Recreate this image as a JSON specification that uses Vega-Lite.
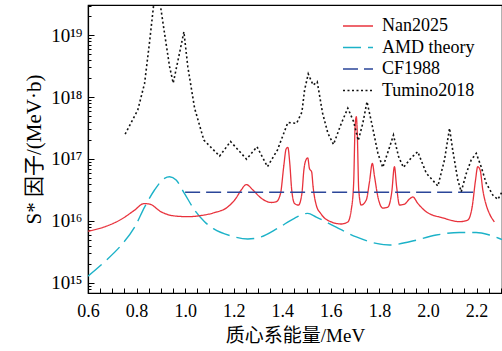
{
  "$schema": "https://vega.github.io/schema/vega-lite/v6.json",
  "width": 414,
  "height": 288,
  "autosize": {"type": "none"},
  "padding": {"left": 88, "top": 5, "right": 0, "bottom": 58},
  "background": "white",
  "config": {
    "view": {"stroke": "black", "strokeWidth": 1.2},
    "font": "Liberation Serif"
  },
  "data": {
    "values": [
      {"s": "AMD theory", "x": 0.600, "y": 1.28e15},
      {"s": "AMD theory", "x": 0.668, "y": 2.18e15},
      {"s": "AMD theory", "x": 0.737, "y": 4.06e15},
      {"s": "AMD theory", "x": 0.792, "y": 7.9e15},
      {"s": "AMD theory", "x": 0.833, "y": 1.67e16},
      {"s": "AMD theory", "x": 0.874, "y": 3.15e16},
      {"s": "AMD theory", "x": 0.915, "y": 4.87e16},
      {"s": "AMD theory", "x": 0.936, "y": 5.16e16},
      {"s": "AMD theory", "x": 0.963, "y": 4.56e16},
      {"s": "AMD theory", "x": 0.997, "y": 2.78e16},
      {"s": "AMD theory", "x": 1.039, "y": 1.49e16},
      {"s": "AMD theory", "x": 1.080, "y": 9.7e15},
      {"s": "AMD theory", "x": 1.118, "y": 7.4e15},
      {"s": "AMD theory", "x": 1.190, "y": 5.7e15},
      {"s": "AMD theory", "x": 1.258, "y": 5.1e15},
      {"s": "AMD theory", "x": 1.313, "y": 5.5e15},
      {"s": "AMD theory", "x": 1.382, "y": 7.6e15},
      {"s": "AMD theory", "x": 1.450, "y": 1.10e16},
      {"s": "AMD theory", "x": 1.505, "y": 1.32e16},
      {"s": "AMD theory", "x": 1.540, "y": 1.15e16},
      {"s": "AMD theory", "x": 1.622, "y": 7.9e15},
      {"s": "AMD theory", "x": 1.705, "y": 5.5e15},
      {"s": "AMD theory", "x": 1.787, "y": 4.33e15},
      {"s": "AMD theory", "x": 1.842, "y": 4.07e15},
      {"s": "AMD theory", "x": 1.924, "y": 4.6e15},
      {"s": "AMD theory", "x": 2.034, "y": 5.9e15},
      {"s": "AMD theory", "x": 2.130, "y": 6.5e15},
      {"s": "AMD theory", "x": 2.199, "y": 6.5e15},
      {"s": "AMD theory", "x": 2.254, "y": 5.9e15},
      {"s": "AMD theory", "x": 2.305, "y": 5.0e15},

      {"s": "Nan2025", "x": 0.600, "y": 6.8e15},
      {"s": "Nan2025", "x": 0.668, "y": 8.0e15},
      {"s": "Nan2025", "x": 0.737, "y": 1.06e16},
      {"s": "Nan2025", "x": 0.792, "y": 1.49e16},
      {"s": "Nan2025", "x": 0.830, "y": 1.90e16},
      {"s": "Nan2025", "x": 0.853, "y": 1.87e16},
      {"s": "Nan2025", "x": 0.901, "y": 1.40e16},
      {"s": "Nan2025", "x": 0.956, "y": 1.20e16},
      {"s": "Nan2025", "x": 1.011, "y": 1.17e16},
      {"s": "Nan2025", "x": 1.066, "y": 1.22e16},
      {"s": "Nan2025", "x": 1.121, "y": 1.36e16},
      {"s": "Nan2025", "x": 1.175, "y": 1.67e16},
      {"s": "Nan2025", "x": 1.207, "y": 2.25e16},
      {"s": "Nan2025", "x": 1.231, "y": 3.15e16},
      {"s": "Nan2025", "x": 1.252, "y": 3.86e16},
      {"s": "Nan2025", "x": 1.279, "y": 3.15e16},
      {"s": "Nan2025", "x": 1.313, "y": 2.33e16},
      {"s": "Nan2025", "x": 1.355, "y": 1.98e16},
      {"s": "Nan2025", "x": 1.376, "y": 2.05e16},
      {"s": "Nan2025", "x": 1.393, "y": 2.78e16},
      {"s": "Nan2025", "x": 1.406, "y": 7.5e16},
      {"s": "Nan2025", "x": 1.416, "y": 1.45e17},
      {"s": "Nan2025", "x": 1.423, "y": 1.54e17},
      {"s": "Nan2025", "x": 1.431, "y": 8.5e16},
      {"s": "Nan2025", "x": 1.439, "y": 3.15e16},
      {"s": "Nan2025", "x": 1.451, "y": 1.90e16},
      {"s": "Nan2025", "x": 1.467, "y": 1.80e16},
      {"s": "Nan2025", "x": 1.481, "y": 2.78e16},
      {"s": "Nan2025", "x": 1.489, "y": 6.6e16},
      {"s": "Nan2025", "x": 1.499, "y": 9.9e16},
      {"s": "Nan2025", "x": 1.505, "y": 1.04e17},
      {"s": "Nan2025", "x": 1.512, "y": 7.0e16},
      {"s": "Nan2025", "x": 1.521, "y": 6.2e16},
      {"s": "Nan2025", "x": 1.527, "y": 3.55e16},
      {"s": "Nan2025", "x": 1.540, "y": 1.80e16},
      {"s": "Nan2025", "x": 1.560, "y": 1.29e16},
      {"s": "Nan2025", "x": 1.602, "y": 9.6e15},
      {"s": "Nan2025", "x": 1.643, "y": 8.9e15},
      {"s": "Nan2025", "x": 1.670, "y": 9.6e15},
      {"s": "Nan2025", "x": 1.684, "y": 1.49e16},
      {"s": "Nan2025", "x": 1.694, "y": 4.0e16},
      {"s": "Nan2025", "x": 1.700, "y": 3.3e17},
      {"s": "Nan2025", "x": 1.705, "y": 4.8e17},
      {"s": "Nan2025", "x": 1.709, "y": 2.6e17},
      {"s": "Nan2025", "x": 1.715, "y": 3.15e16},
      {"s": "Nan2025", "x": 1.725, "y": 1.80e16},
      {"s": "Nan2025", "x": 1.746, "y": 2.17e16},
      {"s": "Nan2025", "x": 1.759, "y": 4.2e16},
      {"s": "Nan2025", "x": 1.771, "y": 8.5e16},
      {"s": "Nan2025", "x": 1.780, "y": 5.2e16},
      {"s": "Nan2025", "x": 1.794, "y": 2.43e16},
      {"s": "Nan2025", "x": 1.814, "y": 1.61e16},
      {"s": "Nan2025", "x": 1.835, "y": 1.67e16},
      {"s": "Nan2025", "x": 1.851, "y": 2.92e16},
      {"s": "Nan2025", "x": 1.862, "y": 7.5e16},
      {"s": "Nan2025", "x": 1.871, "y": 3.55e16},
      {"s": "Nan2025", "x": 1.883, "y": 1.80e16},
      {"s": "Nan2025", "x": 1.904, "y": 1.87e16},
      {"s": "Nan2025", "x": 1.924, "y": 2.25e16},
      {"s": "Nan2025", "x": 1.938, "y": 2.43e16},
      {"s": "Nan2025", "x": 1.958, "y": 1.92e16},
      {"s": "Nan2025", "x": 1.993, "y": 1.40e16},
      {"s": "Nan2025", "x": 2.061, "y": 1.12e16},
      {"s": "Nan2025", "x": 2.130, "y": 9.7e15},
      {"s": "Nan2025", "x": 2.164, "y": 1.03e16},
      {"s": "Nan2025", "x": 2.182, "y": 1.67e16},
      {"s": "Nan2025", "x": 2.196, "y": 4.56e16},
      {"s": "Nan2025", "x": 2.205, "y": 7.5e16},
      {"s": "Nan2025", "x": 2.215, "y": 6.6e16},
      {"s": "Nan2025", "x": 2.226, "y": 3.15e16},
      {"s": "Nan2025", "x": 2.240, "y": 1.80e16},
      {"s": "Nan2025", "x": 2.254, "y": 1.29e16},
      {"s": "Nan2025", "x": 2.274, "y": 9.6e15},

      {"s": "CF1988", "x": 1.0, "y": 2.9e16},
      {"s": "CF1988", "x": 2.2, "y": 2.9e16},

      {"s": "Tumino2018", "x": 0.753, "y": 2.52e17},
      {"s": "Tumino2018", "x": 0.805, "y": 6.17e17},
      {"s": "Tumino2018", "x": 0.833, "y": 1.66e18},
      {"s": "Tumino2018", "x": 0.853, "y": 7.4e18},
      {"s": "Tumino2018", "x": 0.882, "y": 8e19},
      {"s": "Tumino2018", "x": 0.915, "y": 1.08e19},
      {"s": "Tumino2018", "x": 0.936, "y": 3.09e18},
      {"s": "Tumino2018", "x": 0.951, "y": 1.68e18},
      {"s": "Tumino2018", "x": 0.977, "y": 5.14e18},
      {"s": "Tumino2018", "x": 0.995, "y": 1.13e19},
      {"s": "Tumino2018", "x": 1.011, "y": 3.09e18},
      {"s": "Tumino2018", "x": 1.039, "y": 6.6e17},
      {"s": "Tumino2018", "x": 1.077, "y": 2.02e17},
      {"s": "Tumino2018", "x": 1.142, "y": 1.11e17},
      {"s": "Tumino2018", "x": 1.187, "y": 1.91e17},
      {"s": "Tumino2018", "x": 1.253, "y": 9.9e16},
      {"s": "Tumino2018", "x": 1.296, "y": 1.57e17},
      {"s": "Tumino2018", "x": 1.339, "y": 7.5e16},
      {"s": "Tumino2018", "x": 1.380, "y": 1.39e17},
      {"s": "Tumino2018", "x": 1.423, "y": 3.87e17},
      {"s": "Tumino2018", "x": 1.459, "y": 3.76e17},
      {"s": "Tumino2018", "x": 1.481, "y": 5.7e17},
      {"s": "Tumino2018", "x": 1.492, "y": 1.3e18},
      {"s": "Tumino2018", "x": 1.507, "y": 2.36e18},
      {"s": "Tumino2018", "x": 1.527, "y": 1.56e18},
      {"s": "Tumino2018", "x": 1.544, "y": 1.77e18},
      {"s": "Tumino2018", "x": 1.566, "y": 5.5e17},
      {"s": "Tumino2018", "x": 1.588, "y": 2.6e17},
      {"s": "Tumino2018", "x": 1.611, "y": 1.71e17},
      {"s": "Tumino2018", "x": 1.643, "y": 3.73e17},
      {"s": "Tumino2018", "x": 1.670, "y": 6.6e17},
      {"s": "Tumino2018", "x": 1.694, "y": 4.0e17},
      {"s": "Tumino2018", "x": 1.713, "y": 1.98e17},
      {"s": "Tumino2018", "x": 1.732, "y": 3.8e17},
      {"s": "Tumino2018", "x": 1.749, "y": 8.4e17},
      {"s": "Tumino2018", "x": 1.770, "y": 3.53e17},
      {"s": "Tumino2018", "x": 1.794, "y": 1.23e17},
      {"s": "Tumino2018", "x": 1.814, "y": 7.3e16},
      {"s": "Tumino2018", "x": 1.838, "y": 1.39e17},
      {"s": "Tumino2018", "x": 1.858, "y": 2.43e17},
      {"s": "Tumino2018", "x": 1.879, "y": 1.09e17},
      {"s": "Tumino2018", "x": 1.899, "y": 7.3e16},
      {"s": "Tumino2018", "x": 1.931, "y": 1.04e17},
      {"s": "Tumino2018", "x": 1.958, "y": 1.31e17},
      {"s": "Tumino2018", "x": 1.993, "y": 5.9e16},
      {"s": "Tumino2018", "x": 2.041, "y": 3.65e16},
      {"s": "Tumino2018", "x": 2.068, "y": 9.6e16},
      {"s": "Tumino2018", "x": 2.089, "y": 3.12e17},
      {"s": "Tumino2018", "x": 2.102, "y": 1.39e17},
      {"s": "Tumino2018", "x": 2.123, "y": 4.56e16},
      {"s": "Tumino2018", "x": 2.137, "y": 2.95e16},
      {"s": "Tumino2018", "x": 2.158, "y": 5.85e16},
      {"s": "Tumino2018", "x": 2.178, "y": 9.6e16},
      {"s": "Tumino2018", "x": 2.199, "y": 1.23e17},
      {"s": "Tumino2018", "x": 2.219, "y": 7.5e16},
      {"s": "Tumino2018", "x": 2.240, "y": 4.04e16},
      {"s": "Tumino2018", "x": 2.267, "y": 2.61e16},
      {"s": "Tumino2018", "x": 2.288, "y": 2.22e16},
      {"s": "Tumino2018", "x": 2.305, "y": 2.92e16}
    ]
  },
  "encoding": {
    "x": {
      "field": "x", "type": "quantitative",
      "scale": {"domain": [0.6, 2.305], "nice": false, "zero": false},
      "axis": {
        "title": "质心系能量/MeV",
        "titleFont": "Liberation Serif, Noto Sans CJK SC",
        "titleFontSize": 19, "titleFontWeight": "normal", "titleColor": "black",
        "titlePadding": 6,
        "values": [0.6,0.65,0.7,0.75,0.8,0.85,0.9,0.95,1.0,1.05,1.1,1.15,1.2,1.25,1.3,1.35,1.4,1.45,1.5,1.55,1.6,1.65,1.7,1.75,1.8,1.85,1.9,1.95,2.0,2.05,2.1,2.15,2.2,2.25,2.3],
        "labelExpr": "abs(datum.value*5 - round(datum.value*5)) < 0.001 ? format(datum.value, '.1f') : ''",
        "labelFont": "Liberation Serif", "labelFontSize": 18, "labelColor": "black",
        "labelPadding": 14, "labelFlush": false, "labelOverlap": false,
        "tickSize": -5, "tickColor": "black", "tickWidth": 1,
        "domainColor": "black", "domainWidth": 1.2,
        "grid": false
      }
    },
    "y": {
      "field": "y", "type": "quantitative",
      "scale": {"type": "log", "domain": [6.84e14, 3.06e19], "nice": false},
      "axis": {
        "title": "S* 因子/(MeV·b)",
        "titleFont": "Liberation Serif, Noto Sans CJK SC",
        "titleFontSize": 21, "titleFontWeight": "normal", "titleColor": "black",
        "titlePadding": 6,
        "values": [8e14,9e14,1e15,2e15,3e15,4e15,5e15,6e15,7e15,8e15,9e15,1e16,2e16,3e16,4e16,5e16,6e16,7e16,8e16,9e16,1e17,2e17,3e17,4e17,5e17,6e17,7e17,8e17,9e17,1e18,2e18,3e18,4e18,5e18,6e18,7e18,8e18,9e18,1e19,2e19,3e19],
        "labelExpr": "datum.value == 1e15 ? '10¹⁵' : datum.value == 1e16 ? '10¹⁶' : datum.value == 1e17 ? '10¹⁷' : datum.value == 1e18 ? '10¹⁸' : datum.value == 1e19 ? '10¹⁹' : ''",
        "labelFont": "Liberation Serif", "labelFontSize": 19, "labelColor": "black",
        "labelPadding": 12, "labelFlush": false, "labelOverlap": false,
        "tickSize": {"condition": {"test": "indexof([1e15,1e16,1e17,1e18,1e19], datum.value) >= 0", "value": -6}, "value": -3},
        "tickColor": "black", "tickWidth": 1,
        "domainColor": "black", "domainWidth": 1.2,
        "grid": false
      }
    },
    "color": {
      "field": "s", "type": "nominal",
      "scale": {
        "domain": ["Nan2025", "AMD theory", "CF1988", "Tumino2018"],
        "range": ["#e8323c", "#1cb2c8", "#2b4699", "#111111"]
      },
      "legend": {
        "title": null,
        "orient": "none", "legendX": 260, "legendY": 11,
        "symbolType": "M-1.667,0H1.667", "symbolSize": 324, "symbolStrokeWidth": 2,
        "symbolFillColor": "transparent",
        "labelFont": "Liberation Serif", "labelFontSize": 18, "labelColor": "black",
        "labelOffset": 14, "rowPadding": 2.5, "padding": 0
      }
    },
    "strokeDash": {
      "field": "s", "type": "nominal",
      "scale": {
        "domain": ["Nan2025", "AMD theory", "CF1988", "Tumino2018"],
        "range": [[1, 0], [18, 7], [15, 6], [2, 2.5]]
      },
      "legend": {
        "title": null,
        "orient": "none", "legendX": 260, "legendY": 11,
        "symbolType": "M-1.667,0H1.667", "symbolSize": 324, "symbolStrokeWidth": 2,
        "symbolFillColor": "transparent",
        "labelFont": "Liberation Serif", "labelFontSize": 18, "labelColor": "black",
        "labelOffset": 14, "rowPadding": 2.5, "padding": 0
      }
    },
    "strokeWidth": {
      "field": "s", "type": "nominal",
      "scale": {
        "domain": ["Nan2025", "AMD theory", "CF1988", "Tumino2018"],
        "range": [1.3, 1.6, 2, 1.6]
      },
      "legend": null
    }
  },
  "layer": [
    {
      "transform": [{"filter": "datum.s != 'Tumino2018'"}],
      "mark": {"type": "line", "clip": true, "interpolate": "monotone"}
    },
    {
      "transform": [{"filter": "datum.s == 'Tumino2018'"}],
      "mark": {"type": "line", "clip": true, "interpolate": "linear"}
    }
  ]
}
